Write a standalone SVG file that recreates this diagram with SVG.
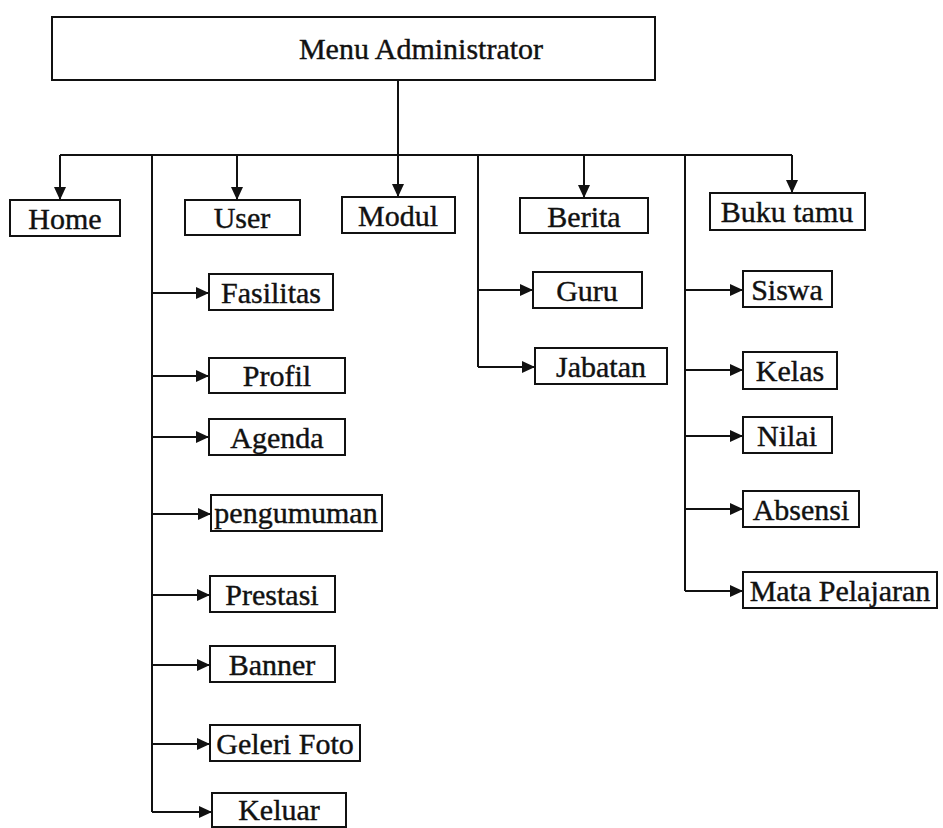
<svg xmlns="http://www.w3.org/2000/svg" width="943" height="828" viewBox="0 0 943 828">
<style>
.box{fill:#fff;stroke:#111;stroke-width:2}
.t{font-family:"Liberation Serif","Times New Roman",serif;font-size:30px;fill:#111;text-anchor:middle;stroke:#111;stroke-width:0.4}
.c{fill:none;stroke:#111;stroke-width:2}
</style>
<defs>
<marker id="ah" markerUnits="userSpaceOnUse" markerWidth="13" markerHeight="12" refX="13" refY="6" orient="auto">
<path d="M0,0 L13,6 L0,12 z" fill="#111"/>
</marker>
</defs>
<rect width="943" height="828" fill="#fff"/>
<g id="connectors">
<path class="c" d="M398,80 V197" marker-end="url(#ah)"/>
<path class="c" d="M60,155 H792"/>
<path class="c" d="M60,155 V200" marker-end="url(#ah)"/>
<path class="c" d="M237,155 V200" marker-end="url(#ah)"/>
<path class="c" d="M584,155 V198" marker-end="url(#ah)"/>
<path class="c" d="M792,155 V193" marker-end="url(#ah)"/>
<path class="c" d="M152,155 V812"/>
<path class="c" d="M152,293 H209" marker-end="url(#ah)"/>
<path class="c" d="M152,376 H209" marker-end="url(#ah)"/>
<path class="c" d="M152,437 H209" marker-end="url(#ah)"/>
<path class="c" d="M152,514 H211" marker-end="url(#ah)"/>
<path class="c" d="M152,595 H210" marker-end="url(#ah)"/>
<path class="c" d="M152,665 H210" marker-end="url(#ah)"/>
<path class="c" d="M152,744 H210" marker-end="url(#ah)"/>
<path class="c" d="M152,812 H212" marker-end="url(#ah)"/>
<path class="c" d="M478,155 V367"/>
<path class="c" d="M478,290 H533" marker-end="url(#ah)"/>
<path class="c" d="M478,367 H535" marker-end="url(#ah)"/>
<path class="c" d="M685,155 V591"/>
<path class="c" d="M685,290 H743" marker-end="url(#ah)"/>
<path class="c" d="M685,370 H743" marker-end="url(#ah)"/>
<path class="c" d="M685,436 H743" marker-end="url(#ah)"/>
<path class="c" d="M685,509 H743" marker-end="url(#ah)"/>
<path class="c" d="M685,591 H743" marker-end="url(#ah)"/>
</g>
<g id="menu"><rect class="box" x="52" y="17" width="603" height="63"/><text class="t" x="421" y="59">Menu Administrator</text></g>
<g id="home"><rect class="box" x="10" y="200" width="110" height="36"/><text class="t" x="65" y="229">Home</text></g>
<g id="user"><rect class="box" x="185" y="200" width="115" height="35"/><text class="t" x="242" y="228">User</text></g>
<g id="modul"><rect class="box" x="342" y="197" width="113" height="36"/><text class="t" x="398" y="226">Modul</text></g>
<g id="berita"><rect class="box" x="520" y="198" width="128" height="35"/><text class="t" x="584" y="227">Berita</text></g>
<g id="bukutamu"><rect class="box" x="710" y="193" width="155" height="37"/><text class="t" x="787" y="222">Buku tamu</text></g>
<g id="fasilitas"><rect class="box" x="209" y="274" width="124" height="36"/><text class="t" x="271" y="303">Fasilitas</text></g>
<g id="profil"><rect class="box" x="209" y="358" width="136" height="35"/><text class="t" x="277" y="386">Profil</text></g>
<g id="agenda"><rect class="box" x="209" y="419" width="136" height="36"/><text class="t" x="277" y="448">Agenda</text></g>
<g id="pengumuman"><rect class="box" x="211" y="495" width="171" height="36"/><text class="t" x="296" y="523">pengumuman</text></g>
<g id="prestasi"><rect class="box" x="210" y="576" width="125" height="36"/><text class="t" x="272" y="605">Prestasi</text></g>
<g id="banner"><rect class="box" x="210" y="646" width="125" height="36"/><text class="t" x="272" y="675">Banner</text></g>
<g id="geleri"><rect class="box" x="210" y="725" width="150" height="36"/><text class="t" x="285" y="754">Geleri Foto</text></g>
<g id="keluar"><rect class="box" x="212" y="793" width="134" height="34"/><text class="t" x="279" y="820">Keluar</text></g>
<g id="guru"><rect class="box" x="533" y="272" width="109" height="36"/><text class="t" x="587" y="301">Guru</text></g>
<g id="jabatan"><rect class="box" x="535" y="348" width="132" height="36"/><text class="t" x="601" y="377">Jabatan</text></g>
<g id="siswa"><rect class="box" x="743" y="271" width="89" height="36"/><text class="t" x="787" y="300">Siswa</text></g>
<g id="kelas"><rect class="box" x="743" y="352" width="94" height="37"/><text class="t" x="790" y="381">Kelas</text></g>
<g id="nilai"><rect class="box" x="743" y="417" width="89" height="36"/><text class="t" x="787" y="446">Nilai</text></g>
<g id="absensi"><rect class="box" x="743" y="491" width="116" height="36"/><text class="t" x="801" y="520">Absensi</text></g>
<g id="mata"><rect class="box" x="743" y="572" width="194" height="36"/><text class="t" x="840" y="601">Mata Pelajaran</text></g>
</svg>
